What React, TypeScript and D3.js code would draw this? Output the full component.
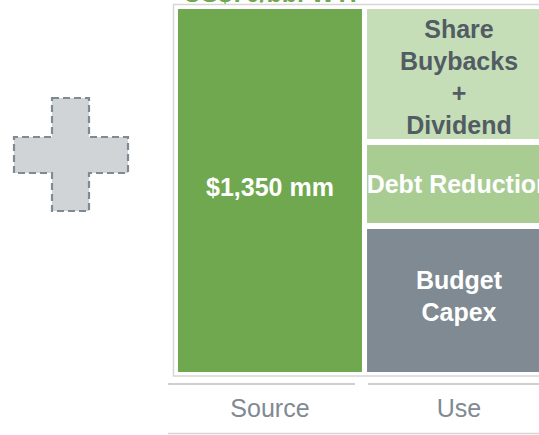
import React from "react";
import * as d3 from "d3";

const columns = ["Source", "Use"];
const sourceLabel = "$1,350 mm";
const sourceValue = 1350;
const useCategories = ["Share Buybacks + Dividend", "Debt Reduction", "Budget Capex"];
const useLines = [["Share", "Buybacks", "+", "Dividend"], ["Debt Reduction"], ["Budget", "Capex"]];
const useValues = [500, 300, 550];
const titleText = "US$70/bbl WTI";

const W = 539;
const H = 435;
const FONT = "Arial, 'Liberation Sans', Helvetica, sans-serif";
const useFill = ["#c6deb8", "#a9cc93", "#7f8a92"];
const useText = ["#525c63", "#ffffff", "#ffffff"];
const textShift = [3, 0, -4];

export default function App() {
  const top = 9;
  const bottom = 372;
  const gap = 6;
  const x = d3.scaleBand<string>().domain(columns).range([178, 551]).paddingInner(5 / 186).paddingOuter(0);
  const totalUse = d3.sum(useValues);
  const avail = bottom - top - gap * (useValues.length - 1);
  const h = d3.scaleLinear().domain([0, totalUse]).range([0, avail]);
  const ySrc = d3.scaleLinear().domain([0, sourceValue]).range([top, bottom]);
  let acc = top;
  const segs = useValues.map((v, i) => {
    const y0 = acc;
    const hh = h(v);
    acc += hh + gap;
    return { y0, hh, i };
  });
  const bw = x.bandwidth();
  const sx = x("Source")!;
  const ux = x("Use")!;
  const lineH = 32;

  return (
    <svg width={W} height={H} style={{ position: "absolute", left: 0, top: 0 }} fontFamily={FONT}>
      <text x={sx + bw / 2} y={2} textAnchor="middle" fill="#70a84f" fontSize={25} fontWeight="bold">
        {titleText}
      </text>
      <rect x={173.5} y={4.5} width={420} height={371.5} fill="none" stroke="#d6d6d6" strokeWidth={1.5} />
      <rect x={sx} y={ySrc(0)} width={bw} height={ySrc(sourceValue) - ySrc(0)} fill="#70a84f" />
      <text x={sx + bw / 2} y={(top + bottom) / 2 - 3} dy="0.35em" textAnchor="middle" fill="#ffffff" fontSize={25} fontWeight="bold">
        {sourceLabel}
      </text>
      {segs.map((s) => (
        <g key={useCategories[s.i]}>
          <rect x={ux} y={s.y0} width={bw} height={s.hh} fill={useFill[s.i]} />
          {useLines[s.i].map((ln, j) => (
            <text
              key={j}
              x={ux + bw / 2}
              y={s.y0 + s.hh / 2 + textShift[s.i] + (j - (useLines[s.i].length - 1) / 2) * lineH}
              dy="0.35em"
              textAnchor="middle"
              fill={useText[s.i]}
              fontSize={25}
              fontWeight="bold"
            >
              {ln}
            </text>
          ))}
        </g>
      ))}
      <line x1={168} x2={355} y1={384} y2={384} stroke="#cfcfcf" strokeWidth={2} />
      <line x1={368} x2={560} y1={384} y2={384} stroke="#cfcfcf" strokeWidth={2} />
      <line x1={168} x2={560} y1={433.5} y2={433.5} stroke="#d6d6d6" strokeWidth={1.5} />
      {columns.map((c) => (
        <text key={c} x={x(c)! + bw / 2} y={408} dy="0.35em" textAnchor="middle" fill="#7f8a92" fontSize={25}>
          {c}
        </text>
      ))}
      <path
        d="M52,98 H89 V137 H128 V173 H89 V211 H52 V173 H14 V137 H52 Z"
        fill="#d1d4d7"
        stroke="#7f8a92"
        strokeWidth={2.2}
        strokeDasharray="7,4"
      />
    </svg>
  );
}
